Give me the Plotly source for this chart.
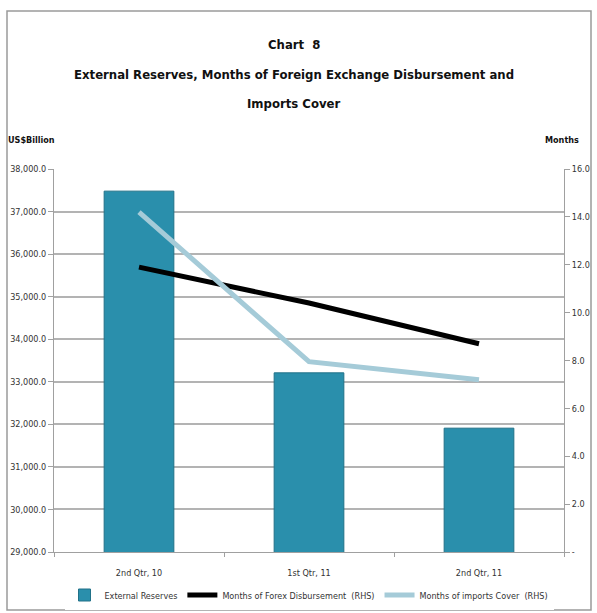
import plotly.graph_objects as go

quarters = ['2nd Qtr, 10', '1st Qtr, 11', '2nd Qtr, 11']
external_reserves = [37480, 33210, 31910]
forex_disbursement = [11.9, 10.4, 8.7]
imports_cover = [14.2, 7.95, 7.2]

left_ticks = [29000 + 1000 * i for i in range(10)]
left_labels = [f'{v:,.1f}' for v in left_ticks]
right_ticks = [2 * i for i in range(9)]
right_labels = ['-'] + [f'{v:.1f}' for v in right_ticks[1:]]

FONT = 'DejaVu Sans Condensed, Liberation Sans Narrow, Roboto, sans-serif'
W, H = 597, 613
L, R, T, B = 54, 33, 169, 61
plot_w = W - L - R
plot_h = H - T - B


def px_x(x):
    return (x - L) / plot_w


def px_y(y):
    return 1 + (T - y) / plot_h


fig = go.Figure()

fig.add_trace(go.Bar(
    x=quarters,
    y=external_reserves,
    name='External Reserves',
    width=0.41,
    marker=dict(color='#2a8fac', line=dict(color='#217188', width=1)),
))

fig.add_trace(go.Scatter(
    x=quarters,
    y=forex_disbursement,
    name='Months of Forex Disbursement  (RHS)',
    mode='lines',
    yaxis='y2',
    line=dict(color='#000000', width=5),
))

fig.add_trace(go.Scatter(
    x=quarters,
    y=imports_cover,
    name='Months of imports Cover  (RHS)',
    mode='lines',
    yaxis='y2',
    line=dict(color='#a5cbd8', width=5),
))

fig.update_layout(
    width=W,
    height=H,
    plot_bgcolor='white',
    paper_bgcolor='white',
    font=dict(family=FONT, size=9, color='#333333'),
    margin=dict(l=L, r=R, t=T, b=B, autoexpand=False),
    showlegend=True,
    legend=dict(
        orientation='h',
        x=0.5, xanchor='center',
        y=px_y(595), yanchor='middle',
        itemwidth=30,
        tracegroupgap=0,
        font=dict(size=9, color='#333333'),
    ),
    xaxis=dict(
        showgrid=False,
        showline=True,
        linecolor='#a0a0a0',
        ticks='outside',
        tickson='boundaries',
        ticklen=4,
        tickcolor='#a0a0a0',
        ticklabelstandoff=12,
        tickfont=dict(size=9, color='#333333'),
    ),
    yaxis=dict(
        range=[29000, 38000],
        tickvals=left_ticks,
        ticktext=left_labels,
        showgrid=True,
        gridcolor='#b3b3b3',
        gridwidth=1.5,
        showline=True,
        linecolor='#a0a0a0',
        ticks='outside',
        ticklen=5,
        tickcolor='#a0a0a0',
        zeroline=False,
    ),
    yaxis2=dict(
        range=[0, 16],
        tickvals=right_ticks,
        ticktext=right_labels,
        overlaying='y',
        side='right',
        showgrid=False,
        showline=True,
        linecolor='#a0a0a0',
        ticks='outside',
        ticklen=5,
        tickcolor='#a0a0a0',
        zeroline=False,
    ),
)

title_lines = [
    ('<b>Chart  8</b>', 45),
    ('<b>External Reserves, Months of Foreign Exchange Disbursement and</b>', 75),
    ('<b>Imports Cover</b>', 103),
]
for text, ypix in title_lines:
    fig.add_annotation(
        text=text, xref='paper', yref='paper',
        x=px_x(294), y=px_y(ypix),
        xanchor='center', yanchor='middle', showarrow=False,
        font=dict(size=13, color='#111111'),
    )
fig.add_annotation(
    text='<b>US$Billion</b>', xref='paper', yref='paper',
    x=px_x(6), y=px_y(140),
    xanchor='left', yanchor='middle', showarrow=False,
    font=dict(size=9, color='#111111'),
)
fig.add_annotation(
    text='<b>Months</b>', xref='paper', yref='paper',
    x=px_x(562), y=px_y(140),
    xanchor='center', yanchor='middle', showarrow=False,
    font=dict(size=9, color='#111111'),
)

# outer chart border
fig.add_shape(
    type='rect', xref='paper', yref='paper',
    x0=px_x(7), x1=px_x(591),
    y0=px_y(610), y1=px_y(11),
    line=dict(color='#9a9a9a', width=1.5),
)

fig.write_html(
    'out.html',
    config={'displayModeBar': False},
    post_script="document.body.style.margin='0';",
)
